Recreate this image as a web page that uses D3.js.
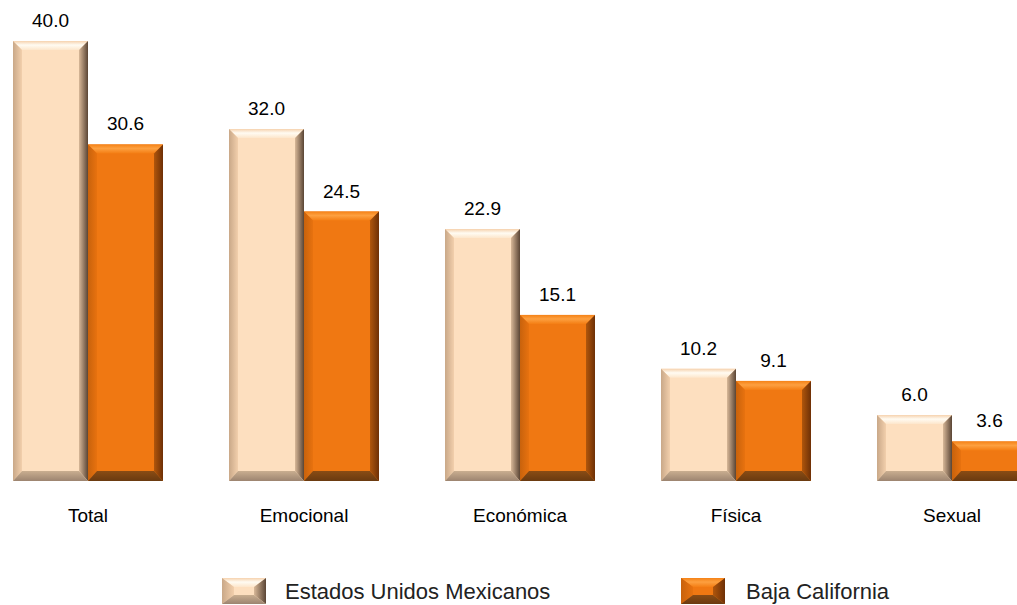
<!DOCTYPE html>
<html><head><meta charset="utf-8">
<script src="https://cdn.jsdelivr.net/npm/d3@7"></script>
<style>body{margin:0;background:#fff}svg{display:block;font-family:"Liberation Sans",Arial,sans-serif}</style>
</head><body>
<svg id="c" width="1017" height="605"></svg>
<script>
const categories = ["Total","Emocional","Económica","Física","Sexual"];
const seriesNames = ["Estados Unidos Mexicanos","Baja California"];
const nacional = [40.0,32.0,22.9,10.2,6.0];
const bajaCalifornia = [30.6,24.5,15.1,9.1,3.6];

const svg = d3.select("#c");
const defs = svg.append("defs");

const palettes = [
  {face:"#FDDFBF", top:["#F6D2AE","#FFFBF2","#FDE6CB"], left:["#C9A888","#F2CFAC"], right:["#5A4535","#D8B898"], bottom:["#9C8470","#C9AE90"]},
  {face:"#F07812", top:["#F58216","#FDA040","#F47E14"], left:["#C8620C","#E8720F"], right:["#6E3006","#B0560C"], bottom:["#6A3A10","#8A4C14"]}
];
palettes.forEach((p,i)=>{
  const gt = defs.append("linearGradient").attr("id","gt"+i).attr("x1",0).attr("y1",0).attr("x2",0).attr("y2",1);
  gt.append("stop").attr("offset","0%").attr("stop-color",p.top[0]);
  gt.append("stop").attr("offset","45%").attr("stop-color",p.top[1]);
  gt.append("stop").attr("offset","100%").attr("stop-color",p.top[2]);
  const gl = defs.append("linearGradient").attr("id","gl"+i).attr("x1",0).attr("y1",0).attr("x2",1).attr("y2",0);
  gl.append("stop").attr("offset","0%").attr("stop-color",p.left[0]);
  gl.append("stop").attr("offset","100%").attr("stop-color",p.left[1]);
  const gr = defs.append("linearGradient").attr("id","gr"+i).attr("x1",1).attr("y1",0).attr("x2",0).attr("y2",0);
  gr.append("stop").attr("offset","0%").attr("stop-color",p.right[0]);
  gr.append("stop").attr("offset","100%").attr("stop-color",p.right[1]);
  const gb = defs.append("linearGradient").attr("id","gb"+i).attr("x1",0).attr("y1",1).attr("x2",0).attr("y2",0);
  gb.append("stop").attr("offset","0%").attr("stop-color",p.bottom[0]);
  gb.append("stop").attr("offset","100%").attr("stop-color",p.bottom[1]);
});

function bevel(g, x, y, w, h, i, b, bt, bb){
  bt = bt||b; bb = bb||b;
  const p = palettes[i];
  g.append("rect").attr("x",x).attr("y",y).attr("width",w).attr("height",h).attr("fill",p.face);
  const pts = a=>a.map(d=>d.join(",")).join(" ");
  g.append("polygon").attr("points",pts([[x,y],[x+w,y],[x+w-b,y+bt],[x+b,y+bt]])).attr("fill","url(#gt"+i+")");
  g.append("polygon").attr("points",pts([[x,y],[x+b,y+bt],[x+b,y+h-bb],[x,y+h]])).attr("fill","url(#gl"+i+")");
  g.append("polygon").attr("points",pts([[x+w,y],[x+w,y+h],[x+w-b,y+h-bb],[x+w-b,y+bt]])).attr("fill","url(#gr"+i+")");
  g.append("polygon").attr("points",pts([[x,y+h],[x+b,y+h-bb],[x+w-b,y+h-bb],[x+w,y+h]])).attr("fill","url(#gb"+i+")");
}

const x0 = d3.scaleBand().domain(categories).range([-20,1060]).paddingInner(66/216).paddingOuter(33/216);
const x1 = d3.scaleBand().domain([0,1]).range([0,x0.bandwidth()]);
const y = d3.scaleLinear().domain([0,40]).range([481,41]);

const data = categories.map((c,k)=>({cat:c, vals:[nacional[k], bajaCalifornia[k]]}));

const groups = svg.selectAll("g.grp").data(data).join("g").attr("class","grp")
  .attr("transform",d=>`translate(${x0(d.cat)},0)`);
groups.each(function(d){
  const g = d3.select(this);
  d.vals.forEach((v,i)=>{
    const bx = x1(i), by = y(v), bw = x1.bandwidth(), bh = y(0)-y(v);
    bevel(g.append("g"), bx, by, bw, bh, i, 9, 9, 10);
    g.append("text").attr("x",bx+bw/2).attr("y",by-14).attr("text-anchor","middle")
      .attr("font-size",19).attr("fill","#000").text(v.toFixed(1));
  });
});

// category axis labels
const xAxis = d3.axisBottom(x0).tickSize(0).tickPadding(0);
const ax = svg.append("g").attr("transform","translate(0,508)").call(xAxis);
ax.select(".domain").remove();
ax.selectAll("text").attr("font-size",19).attr("fill","#000").attr("font-family","Liberation Sans, Arial, sans-serif");

// legend
const legendX = [222, 681];
const legendTextX = [285, 746];
seriesNames.forEach((n,i)=>{
  const lg = svg.append("g");
  bevel(lg, legendX[i], 578, 44, 26, i, 12, 9, 9);
  lg.append("text").attr("x",legendTextX[i]).attr("y",599).attr("font-size",22).attr("fill","#222").text(n);
});
</script>
</body></html>
